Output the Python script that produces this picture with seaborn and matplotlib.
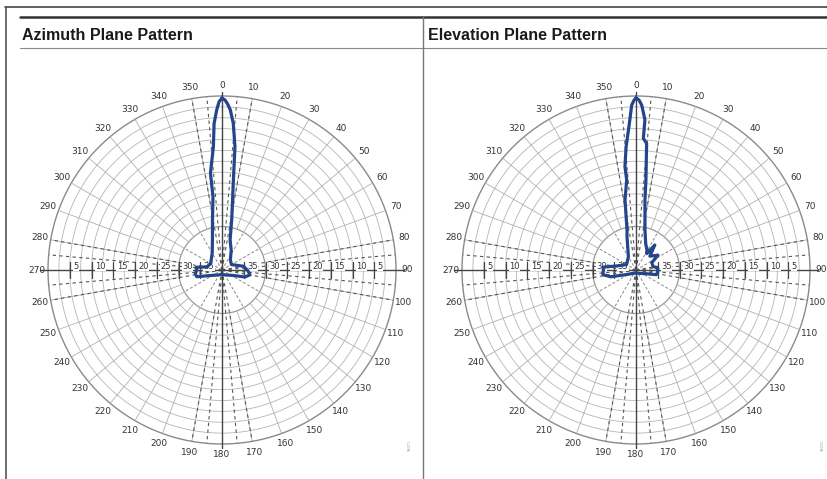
import matplotlib
matplotlib.use("Agg")
import matplotlib.pyplot as plt
import matplotlib.transforms as mtransforms
import numpy as np
import seaborn as sns
from matplotlib.lines import Line2D

# pattern data: angle (deg, clockwise from 0) and relative gain (dB)
az_angle = [0, 1, 2, 3, 4.4, 6, 7.2, 8.3, 11, 15, 25, 40, 60, 80, 92, 100, 107, 115, 140,
            180, 220, 245, 255, 262, 270, 276, 282, 300, 330, 343, 349, 353, 353.2,
            356, 356.9, 358.1, 359, 360]
az_db = [-0.5, -0.9, -1.9, -3.2, -6.2, -11.5, -19.1, -23, -28.3, -32.8, -35, -37, -37.5,
         -35, -34, -33.5, -34.5, -37, -38.5, -39, -38.5, -37, -34, -33.8, -34.2, -34,
         -36.5, -37, -35.5, -32.5, -28.5, -23, -17.6, -11.6, -6.3, -3.2, -1.3, -0.5]

el_angle = [0, 1, 2, 3.4, 3.2, 4.8, 6.3, 7.3, 12.7, 20, 29, 33, 37, 45, 56, 65, 78, 85, 95,
            103, 110, 140, 180, 220, 245, 255, 262, 270, 275, 282, 300, 330, 345, 347.3,
            351.1, 354.1, 353.9, 355.4, 357.4, 358.5, 359.3, 360]
el_db = [-0.5, -0.9, -2.1, -5.4, -9.7, -10.8, -19.2, -23.8, -30.6, -33.5, -34.8, -35.5,
         -32.8, -35.5, -33.9, -36, -36, -35, -35, -35.2, -37.5, -39, -39.3, -39, -37.5,
         -34, -32.3, -32.5, -32.4, -35.5, -37.5, -36.5, -32, -30.6, -23.7, -19.2, -16.1,
         -11.6, -6.3, -2.1, -1.0, -0.5]

titles = ["Azimuth Plane Pattern", "Elevation Plane Pattern"]
ring_labels = [5, 10, 15, 20, 25, 30, 35]
angle_labels = list(range(0, 360, 10))

W, H = 827, 479
sns.set_style("white")
plt.rcParams["font.family"] = ["DejaVu Sans"]

fig = plt.figure(figsize=(W / 100, H / 100), dpi=100)
fig.patch.set_facecolor("white")


def fx(px):
    return px / W


def fy(py):
    return 1 - py / H


def fline(x0, y0, x1, y1, **kw):
    fig.add_artist(Line2D([fx(x0), fx(x1)], [fy(y0), fy(y1)], transform=fig.transFigure, **kw))


# page frame and header rules
fline(5, 7, 827, 7, color="#444444", lw=1.2)
fline(6, 7, 6, 479, color="#555555", lw=1.2)
fline(20, 17, 827, 17, color="#333333", lw=1.8)
fline(20, 48, 827, 48, color="#888888", lw=0.8)
fline(423, 17, 423, 479, color="#777777", lw=1.0)

title_font = ["Liberation Sans", "DejaVu Sans"]
fig.text(fx(22), fy(40), titles[0], fontsize=11.5, fontweight="bold", family=title_font,
         color="#1a1a1a", ha="left", va="baseline")
fig.text(fx(428), fy(40), titles[1], fontsize=11.5, fontweight="bold", family=title_font,
         color="#1a1a1a", ha="left", va="baseline")

R = 174
centers = [(222, 270), (636, 270)]
patterns = [(az_angle, az_db), (el_angle, el_db)]
grid_c = "#9a9a9a"
full = np.linspace(0, 2 * np.pi, 721)

for (cx, cy), (ang, db) in zip(centers, patterns):
    ax = fig.add_axes([fx(cx - R), (H - cy - R) / H, 2 * R / W, 2 * R / H],
                      projection="polar")
    ax.set_theta_zero_location("N")
    ax.set_theta_direction(-1)
    ax.set_ylim(-40, 0)
    ax.grid(False)
    ax.set_xticks([])
    ax.set_yticks([])
    ax.spines["polar"].set_visible(False)
    ax.set_facecolor("none")

    # rings
    for r in np.arange(-27.5, 0, 2.5):
        ax.plot(full, np.full_like(full, r), color="#b5b5b5", lw=0.6, zorder=1)
    ax.plot(full, np.full_like(full, -30), color=grid_c, lw=0.9, zorder=1)
    ax.plot(full, np.full_like(full, 0), color="#8a8a8a", lw=1.0, zorder=1, clip_on=False)

    # spokes
    for a in range(0, 360, 10):
        if a % 90 == 0:
            continue
        t = np.deg2rad(a)
        ax.plot([t, t], [-30, 0], color="#b0b0b0", lw=0.6, zorder=1)
    for a in range(30, 360, 30):
        if a % 90 == 0:
            continue
        t = np.deg2rad(a)
        ax.plot([t, t], [-40, -30], color="#888888", lw=0.7, ls=(0, (3, 2)), zorder=1)
    for base in (0, 90, 180, 270):
        for off in (-10, -5, 5, 10):
            t = np.deg2rad(base + off)
            ax.plot([t, t], [-40, 0], color="#555555", lw=0.8, ls=(0, (3, 3)), zorder=2)

    # main axes
    ax.plot([np.pi / 2, np.pi / 2], [-40, 1.9], color="#444444", lw=1.0, zorder=3, clip_on=False)
    ax.plot([3 * np.pi / 2, 3 * np.pi / 2], [-40, 1.9], color="#444444", lw=1.0, zorder=3,
            clip_on=False)
    ax.plot([0, 0], [-40, 1.0], color="#444444", lw=1.0, zorder=3, clip_on=False)
    ax.plot([np.pi, np.pi], [-40, 1.0], color="#444444", lw=1.0, zorder=3, clip_on=False)

    # ticks and dB labels along the horizontal axis
    off = mtransforms.offset_copy(ax.transData, fig=fig, x=2.5, y=2.5, units="points")
    for side in (np.pi / 2, 3 * np.pi / 2):
        rr = [-v for v in ring_labels]
        ax.plot([side] * len(rr), rr, ls="none", marker="|", ms=11, mew=0.9,
                color="#444444", zorder=3)
        for v in ring_labels:
            ax.text(side, -v, str(v), transform=off, fontsize=6, color="#333333",
                    ha="left", va="center", zorder=4,
                    bbox=dict(facecolor="white", edgecolor="none", pad=0.3))

    # angle labels
    for a in angle_labels:
        ax.text(np.deg2rad(a), 2.5, str(a), fontsize=6.5, color="#333333", ha="center",
                va="center", clip_on=False)

    # pattern
    sns.lineplot(x=np.deg2rad(ang), y=db, sort=False, estimator=None, ax=ax,
                 color="#24448c", lw=2.3, zorder=5)

fig.text(fx(410), fy(445), "98071", fontsize=2.5, color="#999999", rotation=90,
         ha="center", va="center")
fig.text(fx(823), fy(445), "98072", fontsize=2.5, color="#999999", rotation=90,
         ha="center", va="center")

fig.savefig("out.png", dpi=100, facecolor="white")
